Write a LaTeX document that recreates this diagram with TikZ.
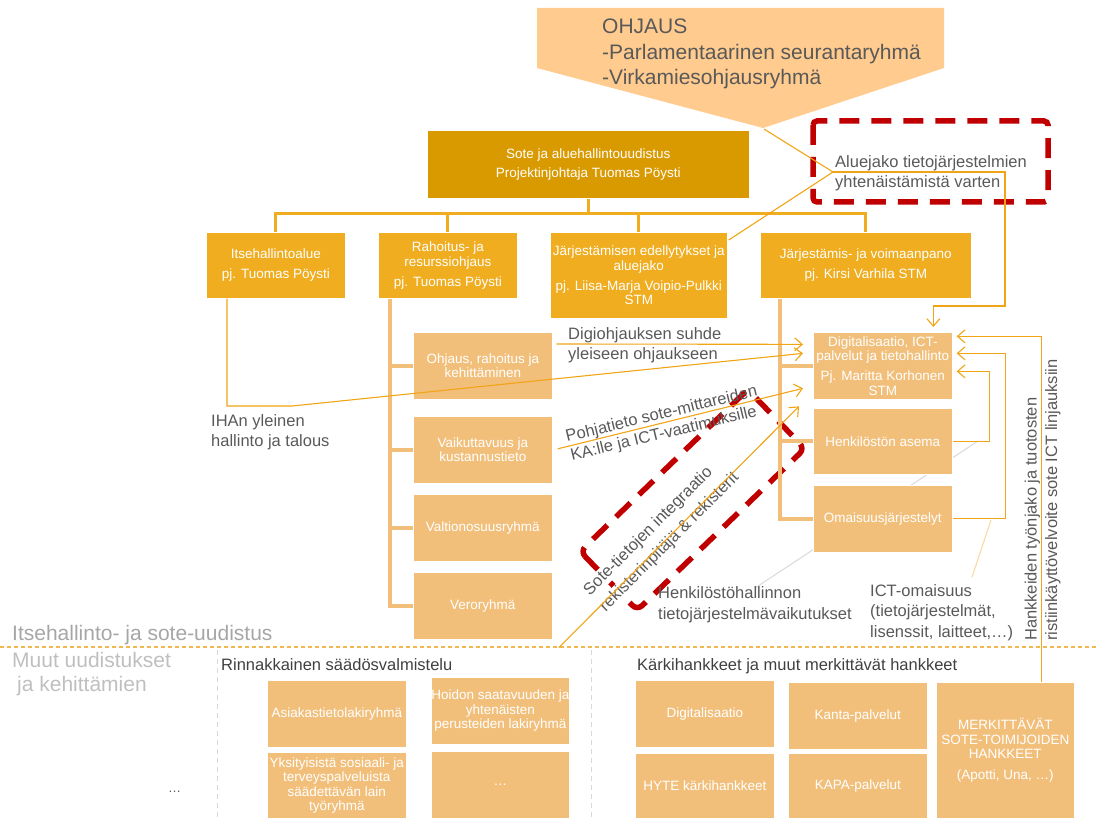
\documentclass[tikz,border=0pt]{standalone}
\usepackage{fontspec}
\setmainfont{Liberation Sans}
\usetikzlibrary{arrows.meta,calc}
\definecolor{peach}{HTML}{FFCB8E}
\definecolor{gold}{HTML}{D99A00}
\definecolor{amber}{HTML}{EFAD1F}
\definecolor{sand}{HTML}{F2BF7B}
\definecolor{wirecol}{HTML}{F0A416}
\definecolor{sepcol}{HTML}{F2B850}
\definecolor{ink}{HTML}{595959}
\definecolor{darkink}{HTML}{404040}
\definecolor{pale}{HTML}{A6A6A6}
\definecolor{paler}{HTML}{BFBFBF}
\definecolor{faint}{HTML}{D9D9D9}
\definecolor{peachline}{HTML}{FAD7A0}
\definecolor{alert}{HTML}{C00000}
\newcommand{\fsz}[2]{\fontsize{#1}{#2}\selectfont}
\begin{document}
\begin{tikzpicture}[x=1pt,y=-1pt,
  blk/.style={draw=white, line width=0.7pt, text=white, align=center,
    inner sep=0pt, anchor=north west, font=\fsz{13.5}{14.5}},
  goldbox/.style={blk, fill=gold},
  amberbox/.style={blk, fill=amber},
  sandbox/.style={blk, fill=sand},
  trunk/.style={draw=amber, line width=3pt},
  branch/.style={draw=sand, line width=4pt},
  wire/.style={draw=wirecol, line width=1.1pt},
  arr/.style={wire, -{Straight Barb[length=7.5pt,width=13pt]}},
  lbl/.style={text=ink, font=\fsz{16.5}{20.5}, inner sep=0pt, align=left},
  redbox/.style={draw=alert, line width=5.5pt, dash pattern=on 20pt off 12pt, rounded corners=4pt},
]
\useasboundingbox (0,0) rectangle (1098,818);

% steering block
\fill[peach] (537,8) -- (944,8) -- (944,68) -- (763,128) -- (537,68) -- cycle;
\coordinate (tip) at (764,129);
\node[lbl, anchor=north west, font=\fsz{21}{25.5}] (ohjaus) at (602,19)
  {OHJAUS\\-Parlamentaarinen seurantaryhmä\\-Virkamiesohjausryhmä};

% callouts lying behind the boxes
\coordinate (hk) at (755,588);
\coordinate (hx) at (978,441);
\coordinate (ik) at (972,577);
\coordinate (ix) at (991,520);
\draw[draw=faint, line width=1pt] (hk) -- (hx);
\draw[draw=peachline, line width=1pt] (ik) -- (ix);

% section separators
\draw[draw=sepcol, line width=1.2pt, dash pattern=on 4pt off 3pt] (0,647) -- (1098,647);
\draw[draw=faint, line width=1pt, dash pattern=on 5pt off 4pt] (217,650) -- (217,818);
\draw[draw=faint, line width=1pt, dash pattern=on 5pt off 4pt] (591,650) -- (591,818);

% organisation boxes
\node[goldbox, minimum width=322, minimum height=68] (main) at (427,130)
  {Sote ja aluehallintouudistus\\[4.5pt]Projektinjohtaja Tuomas Pöysti};
\node[amberbox, minimum width=139, minimum height=66] (ita) at (206,232)
  {Itsehallintoalue\\[5.5pt]pj. Tuomas Pöysti};
\node[amberbox, minimum width=139, minimum height=66] (rah) at (378,232)
  {Rahoitus- ja\\resurssiohjaus\\[5.5pt]pj. Tuomas Pöysti};
\node[amberbox, minimum width=177, minimum height=86] (jed) at (550,232)
  {Järjestämisen edellytykset ja\\aluejako\\[5.5pt]pj. Liisa-Marja Voipio-Pulkki\\STM};
\node[amberbox, minimum width=211, minimum height=66] (jvo) at (760,232)
  {Järjestämis- ja voimaanpano\\[5.5pt]pj. Kirsi Varhila STM};

\node[sandbox, minimum width=139, minimum height=67] (ohj) at (413,332) {Ohjaus, rahoitus ja\\kehittäminen};
\node[sandbox, minimum width=139, minimum height=67] (vai) at (413,416) {Vaikuttavuus ja\\kustannustieto};
\node[sandbox, minimum width=139, minimum height=67] (val) at (413,494) {Valtionosuusryhmä};
\node[sandbox, minimum width=139, minimum height=67] (ver) at (413,572) {Veroryhmä};

\node[sandbox, minimum width=139, minimum height=67] (dig) at (813,332)
  {Digitalisaatio, ICT-\\palvelut ja tietohallinto\\[5.5pt]Pj. Maritta Korhonen\\STM};
\node[sandbox, minimum width=139, minimum height=66] (hen) at (813,408) {Henkilöstön asema};
\node[sandbox, minimum width=139, minimum height=67] (oma) at (813,485) {Omaisuusjärjestelyt};

% lower section boxes
\node[sandbox, minimum width=139, minimum height=67] (asi) at (267,680) {Asiakastietolakiryhmä};
\node[sandbox, minimum width=138, minimum height=67] (hoi) at (431,677) {Hoidon saatavuuden ja\\yhtenäisten\\perusteiden lakiryhmä};
\node[sandbox, minimum width=139, minimum height=66] (yks) at (267,752) {Yksityisistä sosiaali- ja\\terveyspalveluista\\säädettävän lain\\työryhmä};
\node[sandbox, minimum width=138, minimum height=67] (etc) at (431,751) {…};
\node[sandbox, minimum width=139, minimum height=67] (kdig) at (635,680) {Digitalisaatio};
\node[sandbox, minimum width=139, minimum height=65] (hyte) at (635,753) {HYTE kärkihankkeet};
\node[sandbox, minimum width=139, minimum height=67] (kanta) at (788,682) {Kanta-palvelut};
\node[sandbox, minimum width=139, minimum height=65] (kapa) at (788,753) {KAPA-palvelut};
\node[sandbox, minimum width=138, minimum height=136] (merk) at (936,682)
  {MERKITTÄVÄT\\SOTE-TOIMIJOIDEN\\HANKKEET\\[6pt](Apotti, Una, …)};

% hierarchy
\draw[trunk] (main.south) -- ++(0,16);
\draw[trunk] (ita.north) -- ++(0,-18) -| (jvo.north);
\draw[trunk] (rah.north) -- ++(0,-18);
\draw[trunk] (jed.north) -- ++(0,-18);

% red highlight frames
\draw[redbox] (813,121) rectangle (1048,202);
\begin{scope}[shift={(692.5,500)}, rotate=44]
  \draw[redbox, rounded corners=7pt] (-116.5,-41) rectangle (116.5,41);
\end{scope}

\draw[branch] ($(rah.south west)+(12,0)$) |- (ver.west);
\foreach \n in {ohj,vai,val} \draw[branch] (\n.west) -- ++(-23,0);
\draw[branch] ($(jvo.south west)+(20,0)$) |- (oma.west);
\foreach \n in {dig,hen} \draw[branch] (\n.west) -- ++(-33,0);

% area-division note and its links
\coordinate (aj) at (833,172);
\node[lbl, anchor=west] (alue) at (835,173) {Aluejako tietojärjestelmien\\yhtenäistämistä varten};
\draw[wire] (tip) -- (aj) -- ($(jed.north east)+(1,8)$);
\draw[arr] (aj) -- ++(172,0) |- ($(dig.north)+(50.5,-26)$) -- ($(dig.north)+(50.5,-5)$);

% links into the digitalisation group
\coordinate (ihk) at (292,406);
\draw[arr] ($(ita.south west)+(21,0)$) |- (ihk) -- ($(dig.west)+(-10,-12.5)$);
\draw[arr] ($(ohj.north east)+(4,12)$) -- ($(dig.west)+(-10,-21.5)$);
\draw[arr] ($(vai.east)+(5,-1)$) -- ($(dig.west)+(-10,22.5)$);
\draw[arr] ($(merk.north)+(36,0)$) |- ($(dig.east)+(4,-29.5)$);
\draw[arr] (oma.east) -- ++(53,0) |- ($(dig.east)+(4,-12.5)$);
\draw[arr] (hen.east) -- ++(37,0) |- ($(dig.east)+(4,5.5)$);

% labels
\node[lbl, anchor=west] (digi) at (568,345) {Digiohjauksen suhde\\yleiseen ohjaukseen};
\node[lbl, anchor=west] (ihan) at (211,432) {IHAn yleinen\\hallinto ja talous};
\node[lbl, anchor=base west, rotate=13.6] (pt1) at (567,442) {Pohjatieto sote-mittareiden};
\node[lbl, anchor=base west, rotate=13.6] (pt2) at (572,461) {KA:lle ja ICT-vaatimuksille};
\node[lbl, anchor=base west, rotate=45, fill=white, inner sep=1pt] (st1) at (589,597) {Sote-tietojen integraatio};
\node[lbl, anchor=base west, rotate=45, fill=white, inner sep=1pt] (st2) at (605,613) {rekisterinpitäjä \& rekisterit};
\coordinate (sb) at ($(ver.south east)+(6,8)$);
\draw[arr] (sb) -- ($(dig.west)+(-14,40.5)$);
\node[lbl, anchor=west, font=\fsz{16.5}{21}] (hlbl) at (658,605) {Henkilöstöhallinnon\\tietojärjestelmävaikutukset};
\node[lbl, anchor=west] (ilbl) at (870,612.5) {ICT-omaisuus\\(tietojärjestelmät,\\lisenssit, laitteet,…)};
\node[lbl, anchor=west, rotate=90] (hank) at (1042.5,641) {Hankkeiden työnjako ja tuotosten\\ristiinkäyttövelvoite sote ICT linjauksiin};

\node[lbl, anchor=west, text=pale, font=\fsz{21}{24}] (sec1) at (12,635) {Itsehallinto- ja sote-uudistus};
\node[lbl, anchor=west, text=paler, font=\fsz{21}{24}] (sec2) at (12,674) {Muut uudistukset\\\hspace*{5pt}ja kehittämien};
\node[lbl, anchor=base west, text=darkink, font=\fsz{16.5}{20}] (rinn) at (221,670) {Rinnakkainen säädösvalmistelu};
\node[lbl, anchor=base west, text=darkink, font=\fsz{16.5}{20}] (kark) at (637,670) {Kärkihankkeet ja muut merkittävät hankkeet};
\node[lbl, anchor=west, font=\fsz{13}{15}] (more) at (168,792) {…};
\end{tikzpicture}
\end{document}
